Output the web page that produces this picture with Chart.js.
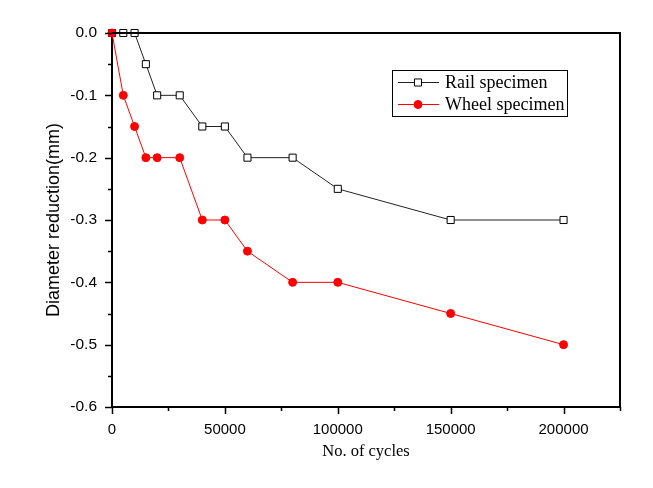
<!DOCTYPE html>
<html>
<head>
<meta charset="utf-8">
<script src="https://cdn.jsdelivr.net/npm/chart.js@4.4.1/dist/chart.umd.min.js"></script>
<style>
  html, body { margin: 0; padding: 0; background: #fff; }
  #wrap { width: 653px; height: 488px; }
</style>
</head>
<body>
<div id="wrap"><canvas id="wear" width="653" height="488"></canvas></div>
<script>
const cycles_rail = [0, 5000, 10000, 15000, 20000, 30000, 40000, 50000, 60000, 80000, 100000, 150000, 200000];
const datas_rail = [0, 0, 0, -0.05, -0.1, -0.1, -0.15, -0.15, -0.2, -0.2, -0.25, -0.3, -0.3];

const cycles_wheel = [0, 5000, 10000, 15000, 20000, 30000, 40000, 50000, 60000, 80000, 100000, 150000, 200000];
const datas_wheel = [0, -0.1, -0.15, -0.2, -0.2, -0.2, -0.3, -0.3, -0.35, -0.4, -0.4, -0.45, -0.5];

const series_names = ['Rail specimen', 'Wheel specimen'];
const x_ticks = [0, 50000, 100000, 150000, 200000];
const y_ticks = ['0.0', '-0.1', '-0.2', '-0.3', '-0.4', '-0.5', '-0.6'];

const toPoints = (xs, ys) => xs.map((x, i) => ({ x: x, y: ys[i] }));

// frame, tick marks and legend box like the original plot
const framePlugin = {
    id: 'frame',
    afterDraw(chart) {
        const ctx = chart.ctx;
        const a = chart.chartArea;
        const xs = chart.scales.x, ys = chart.scales.y;
        ctx.save();
        ctx.strokeStyle = '#000';
        ctx.lineWidth = 2;
        ctx.beginPath();
        ctx.moveTo(a.left, a.top);
        ctx.lineTo(a.right, a.top);
        ctx.lineTo(a.right, a.bottom);
        ctx.stroke();

        ctx.lineWidth = 1.5;
        ctx.beginPath();
        for (let v = 0; v <= 225000; v += 25000) {
            const px = Math.round(xs.getPixelForValue(v)) + 0.5;
            const len = v % 50000 == 0 ? 7 : 4;
            ctx.moveTo(px, a.bottom);
            ctx.lineTo(px, a.bottom + len);
        }
        for (let k = 0; k <= 12; k++) {
            const v = -k * 0.05;
            const py = Math.round(ys.getPixelForValue(v)) + 0.5;
            const len = k % 2 == 0 ? 7 : 4;
            ctx.moveTo(a.left, py);
            ctx.lineTo(a.left - len, py);
        }
        ctx.stroke();

        // legend
        const lx = a.left + 280, ly = a.top + 37;
        const lw = 175, lh = 46;
        ctx.fillStyle = '#fff';
        ctx.fillRect(lx, ly, lw, lh);
        ctx.strokeStyle = '#000';
        ctx.lineWidth = 1;
        ctx.strokeRect(lx + 0.5, ly + 0.5, lw, lh);
        ctx.font = '18px "Liberation Serif", "Times New Roman", serif';
        ctx.textBaseline = 'middle';
        chart.data.datasets.forEach((ds, i) => {
            const cy = ly + 12 + i * 22;
            ctx.strokeStyle = ds.borderColor;
            ctx.lineWidth = 1;
            ctx.beginPath();
            ctx.moveTo(lx + 6, cy + 0.5);
            ctx.lineTo(lx + 47, cy + 0.5);
            ctx.stroke();
            ctx.fillStyle = ds.pointBackgroundColor;
            ctx.strokeStyle = ds.pointBorderColor;
            ctx.beginPath();
            if (ds.pointStyle == 'rect') {
                const s = ds.pointRadius * Math.SQRT1_2;
                ctx.rect(lx + 26 - s, cy + 0.5 - s, 2 * s, 2 * s);
            } else {
                ctx.arc(lx + 26, cy + 0.5, ds.pointRadius, 0, Math.PI * 2);
            }
            ctx.fill();
            ctx.stroke();
            ctx.fillStyle = '#000';
            ctx.fillText(ds.label, lx + 53, cy + 1);
        });
        ctx.restore();
    }
};

const ctx_wear = document.getElementById('wear').getContext('2d');
const Chart_wear = new Chart(ctx_wear, {
    type: 'scatter',
    data: {
        datasets: [{
            label: series_names[0],
            data: toPoints(cycles_rail, datas_rail),
            showLine: true,
            borderColor: '#222',
            borderWidth: 1,
            pointStyle: 'rect',
            pointRadius: 5,
            pointBorderWidth: 1,
            pointBackgroundColor: '#fff',
            pointBorderColor: '#000',
            order: 1,
            clip: false,
        }, {
            label: series_names[1],
            data: toPoints(cycles_wheel, datas_wheel),
            showLine: true,
            borderColor: '#ff0000',
            borderWidth: 1,
            pointStyle: 'circle',
            pointRadius: 4,
            pointBorderWidth: 1,
            pointBackgroundColor: '#ff0000',
            pointBorderColor: '#ff0000',
            order: 0,
            clip: false,
        }]
    },
    options: {
        responsive: false,
        animation: false,
        layout: {
            padding: { left: 43, top: 33, right: 33, bottom: 26 }
        },
        plugins: {
            legend: { display: false },
            tooltip: { enabled: false },
        },
        scales: {
            x: {
                type: 'linear',
                min: 0,
                max: 225000,
                afterFit: (s) => { s.height = 55; },
                afterBuildTicks: (s) => { s.ticks = x_ticks.map(v => ({ value: v })); },
                grid: { display: false },
                border: { display: true, color: '#000', width: 2 },
                ticks: {
                    padding: 6,
                    color: '#000',
                    maxRotation: 0,
                    font: { family: '"Liberation Sans", Arial, sans-serif', size: 15 },
                    callback: (v) => String(v),
                },
                title: {
                    display: true,
                    text: 'No. of cycles',
                    color: '#000',
                    padding: 0,
                    font: { family: '"Liberation Serif", "Times New Roman", serif', size: 16.5 },
                },
            },
            y: {
                type: 'linear',
                min: -0.6,
                max: 0,
                afterFit: (s) => { s.width = 69; },
                afterBuildTicks: (s) => { s.ticks = y_ticks.map(t => ({ value: parseFloat(t) })); },
                grid: { display: false },
                border: { display: true, color: '#000', width: 2 },
                ticks: {
                    padding: 7,
                    color: '#000',
                    font: { family: '"Liberation Sans", Arial, sans-serif', size: 15.5 },
                    callback: (v) => y_ticks.find(t => Math.abs(parseFloat(t) - v) < 1e-9) || '',
                },
                title: {
                    display: true,
                    text: 'Diameter reduction(mm)',
                    color: '#000',
                    padding: 0,
                    font: { family: '"Liberation Sans", Arial, sans-serif', size: 18 },
                },
            },
        },
    },
    plugins: [framePlugin],
});
</script>
</body>
</html>
